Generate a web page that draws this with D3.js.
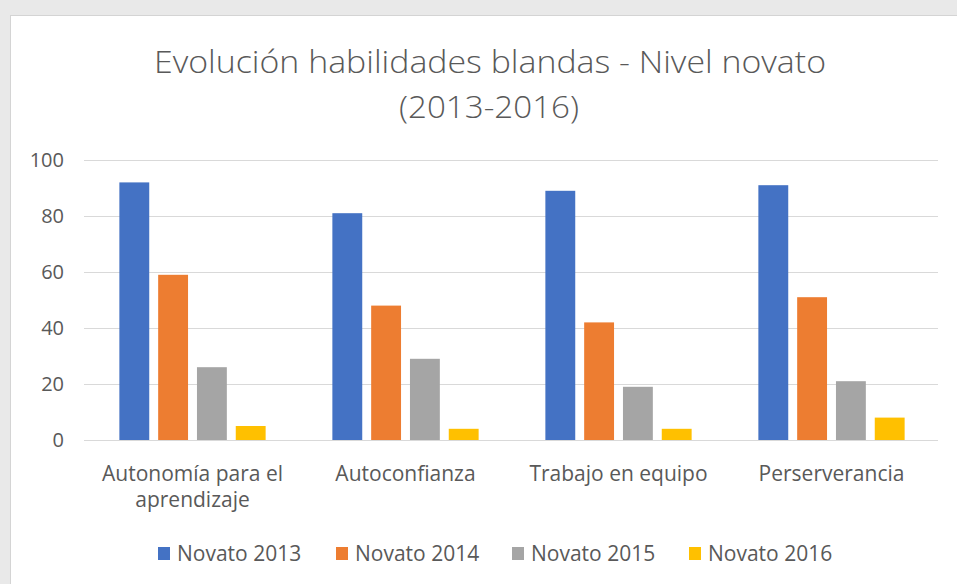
<!DOCTYPE html>
<html><head><meta charset="utf-8">
<script src="https://cdn.jsdelivr.net/npm/d3@7"></script>
<style>body{margin:0;background:#fff}svg{display:block}</style>
</head><body>
<svg id="c" width="957" height="584"></svg>
<script>
const categories = [["Autonomía para el","aprendizaje"],["Autoconfianza"],["Trabajo en equipo"],["Perserverancia"]];
const seriesNames = ["Novato 2013","Novato 2014","Novato 2015","Novato 2016"];
const novato2013 = [92,81,89,91];
const novato2014 = [59,48,42,51];
const novato2015 = [26,29,19,21];
const novato2016 = [5,4,4,8];
const yTicks = [0,20,40,60,80,100];
const colors = ["#4472C4","#ED7D31","#A5A5A5","#FFC000"];
const seriesValues = [novato2013,novato2014,novato2015,novato2016];

(function(){
const svg = d3.select("#c");
const font = "'Open Sans', sans-serif";
svg.append("rect").attr("x",0).attr("y",0).attr("width",957).attr("height",584).attr("fill","#e9e9e9");
svg.append("rect").attr("x",10.5).attr("y",15.5).attr("width",960).attr("height",580).attr("fill","#fff").attr("stroke","#d4d4d4");

const pLeft=86, pRight=938, pTop=160, pBottom=440;
const x0 = d3.scaleBand().domain(d3.range(categories.length)).range([pLeft,pRight]);
const x1 = d3.scaleBand().domain(d3.range(seriesNames.length)).range([0,x0.bandwidth()]).paddingInner(0.23).paddingOuter(0.86);
const y = d3.scaleLinear().domain([0,100]).range([pBottom,pTop]);

svg.append("g").selectAll("line").data(yTicks).join("line")
  .attr("x1",pLeft-2).attr("x2",pRight).attr("y1",d=>Math.round(y(d))+0.5).attr("y2",d=>Math.round(y(d))+0.5)
  .attr("stroke","#d9d9d9").attr("stroke-width",1.2);

svg.append("g").selectAll("text").data(yTicks).join("text")
  .attr("x",64).attr("y",d=>y(d)).attr("dy","0.35em").attr("text-anchor","end")
  .attr("font-family",font).attr("font-size",20).attr("fill","#595959").text(d=>d);

const g = svg.append("g");
seriesValues.forEach((vals,si)=>{
  g.selectAll(null).data(vals).join("rect")
    .attr("x",(d,i)=>x0(i)+x1(si)).attr("width",x1.bandwidth())
    .attr("y",d=>y(d)).attr("height",d=>y(0)-y(d)).attr("fill",colors[si]);
});

categories.forEach((lines,i)=>{
  const t = svg.append("text").attr("text-anchor","middle").attr("font-family",font)
    .attr("font-size",21).attr("fill","#595959");
  lines.forEach((ln,j)=>{
    t.append("tspan").attr("x",x0(i)+x0.bandwidth()/2).attr("y",481+j*26).text(ln);
  });
});

const title = svg.append("text").attr("text-anchor","middle").attr("font-family",font)
  .attr("font-weight",300).attr("font-size",32).attr("fill","#595959");
title.append("tspan").attr("x",490).attr("y",73).attr("textLength",672).attr("lengthAdjust","spacingAndGlyphs").text("Evolución habilidades blandas - Nivel novato");
title.append("tspan").attr("x",489).attr("y",118).attr("textLength",180).attr("lengthAdjust","spacingAndGlyphs").text("(2013-2016)");

const lx = [158,336,512,689];
const lg = svg.append("g");
seriesNames.forEach((n,i)=>{
  lg.append("rect").attr("x",lx[i]).attr("y",547).attr("width",12).attr("height",13).attr("fill",colors[i]);
  lg.append("text").attr("x",lx[i]+19).attr("y",561).attr("font-family",font).attr("font-size",21)
    .attr("fill","#595959").text(n);
});
})();
</script>
</body></html>
